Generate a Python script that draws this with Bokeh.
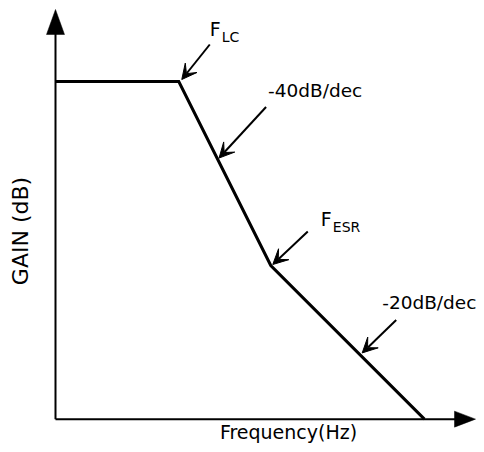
import math
from bokeh.plotting import figure
from bokeh.models import Range1d, Arrow, VeeHead
from bokeh.core.properties import value
from bokeh.embed import file_html
from bokeh.resources import INLINE

# ---- data (asymptotic gain of an LC output filter with an ESR zero) ----
freq_dec = [0.0, 1.34, 2.34, 4.01]      # log10(f), decades from the axis origin
gain_db = [0.0, 0.0, -40.0, -73.4]      # gain in dB
corner_main = ["F", "F"]
corner_subs = ["LC", "ESR"]
slope_labels = ["-40dB/dec", "-20dB/dec"]
x_label = "Frequency(Hz)"
y_label = "GAIN (dB)"

# ---- layout ----
W, H = 476, 444
PX_DEC = 92.0     # pixels per decade
PX_DB = 4.6       # pixels per dB
OX, OY = 55, 81   # canvas px of (0 dec, 0 dB)
BASE_K = 0.37     # empirical baseline correction (fraction of font size)

def cx(px):  # canvas x px -> data x
    return (px - OX) / PX_DEC

def cy(py):  # canvas y px (downwards) -> data y
    return (OY - py) / PX_DB

def dx(px):
    return px / PX_DEC

def dy(py):  # downward px offset -> data offset
    return -py / PX_DB

p = figure(width=W, height=H, output_backend="svg", toolbar_location=None,
           x_range=Range1d(cx(0), cx(W)), y_range=Range1d(cy(H), cy(0)),
           min_border=0, min_border_left=0, min_border_right=0,
           min_border_top=0, min_border_bottom=0)
p.axis.visible = False
p.grid.visible = False
p.outline_line_color = None
p.background_fill_color = "white"
p.border_fill_color = "white"

FONT = value("DejaVu Sans")
ink = "#000000"

def label(x, y, txt, size, align="left"):
    # (x, y) = desired alphabetic baseline point in data coords
    p.text(x=[x], y=[y - dy(BASE_K * size)], text=[txt], text_font=FONT,
           text_font_size=f"{size}px", text_color=ink,
           text_align=align, text_baseline="alphabetic")

# ---- axes with arrowheads ----
x_axis_y = gain_db[-1]
y_top = cy(9)
x_right = cx(475)
yh_len, yh_w = 25, 18
xh_len, xh_w = 21, 16
p.line([0, 0], [x_axis_y, y_top + dy(yh_len) + 0.5], line_width=2, color=ink)
p.line([0, x_right - dx(xh_len) + 0.02], [x_axis_y, x_axis_y], line_width=2, color=ink)
p.patch([0, -dx(yh_w / 2), dx(yh_w / 2)],
        [y_top, y_top + dy(yh_len), y_top + dy(yh_len)], color=ink, line_width=0.5)
p.patch([x_right, x_right - dx(xh_len), x_right - dx(xh_len)],
        [x_axis_y, x_axis_y - dy(xh_w / 2), x_axis_y + dy(xh_w / 2)], color=ink, line_width=0.5)

# ---- gain curve ----
p.line(freq_dec, gain_db, line_width=3, color=ink, line_join="miter")

def add_arrow(tx, ty, sx, sy):
    p.add_layout(Arrow(x_start=sx, y_start=sy, x_end=tx, y_end=ty,
                       line_width=2, line_color=ink,
                       end=VeeHead(size=15, fill_color=ink, line_color=ink, line_width=1)))

def seg_point(i, t):
    return (freq_dec[i] + t * (freq_dec[i + 1] - freq_dec[i]),
            gain_db[i] + t * (gain_db[i + 1] - gain_db[i]))

# corner annotations (F_LC, F_ESR)
corner_idx = [1, 2]
tip_off = [(3, -2), (2, -1)]
tail_off = [(31, -37), (37, -34)]
main_off = [(31, -45), (50, -39)]
sub_off = [(43, -39), (62, -33)]
for k, i in enumerate(corner_idx):
    x, y = freq_dec[i], gain_db[i]
    add_arrow(x + dx(tip_off[k][0]), y + dy(tip_off[k][1]),
              x + dx(tail_off[k][0]), y + dy(tail_off[k][1]))
    label(x + dx(main_off[k][0]), y + dy(main_off[k][1]), corner_main[k], 19)
    label(x + dx(sub_off[k][0]), y + dy(sub_off[k][1]), corner_subs[k], 14)

# slope annotations
seg_idx = [1, 2]
seg_t = [0.416, 0.569]
s_tip = [(2, 0), (4, 0)]
s_tail = [(47, -51), (34, -33)]
s_txt = [(2, -9.5), (-14, -11)]
for k, i in enumerate(seg_idx):
    x, y = seg_point(i, seg_t[k])
    tx, ty = x + dx(s_tip[k][0]), y + dy(s_tip[k][1])
    sx, sy = tx + dx(s_tail[k][0]), ty + dy(s_tail[k][1])
    add_arrow(tx, ty, sx, sy)
    label(sx + dx(s_txt[k][0]), sy + dy(s_txt[k][1]), slope_labels[k], 18.5)

# axis titles
label(cx(288), cy(439), x_label, 19, align="center")
p.text(x=[cx(28 - BASE_K * 22)], y=[cy(230.5)], text=[y_label], text_font=FONT,
       text_font_size="22px", text_color=ink, text_align="center",
       text_baseline="alphabetic", angle=math.pi / 2)

open("out.html", "w").write(file_html(p, INLINE))
